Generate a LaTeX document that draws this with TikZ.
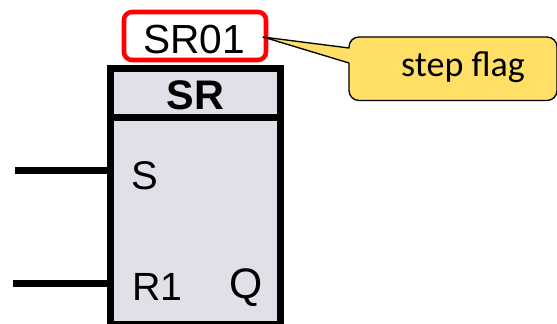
\documentclass[tikz,border=0pt]{standalone}
\usepackage{fontspec}
\setmainfont{Liberation Sans}
\newfontfamily\callfont{Carlito}
\definecolor{blockfill}{HTML}{DFE0E8}
\definecolor{callfill}{HTML}{FFDF66}
\definecolor{flagred}{HTML}{FF0000}
\tikzset{
  blockpart/.style={draw=black,line width=5.25pt,fill=blockfill,inner sep=0pt,outer sep=0pt,anchor=north west},
  wire/.style={draw=black,line width=5.25pt},
  lbl/.style={inner sep=0pt,anchor=base west,text=black},
}
\begin{document}
\begin{tikzpicture}[x=0.75pt,y=-0.75pt]
\useasboundingbox (0,0) rectangle (557,324);
\clip (0,0) rectangle (557,324);
% flag box
\node[draw=flagred,line width=3.4pt,rounded corners=6pt,fill=white,minimum width=106.5pt,minimum height=36pt,inner sep=0pt] (flag) at (195,36) {};
\node[inner sep=0pt,anchor=base,font=\fontsize{30.5pt}{31pt}\selectfont] (flagtxt) at (194,54) {SR01};
% block
\node[blockpart,minimum width=127.5pt,minimum height=37pt] (head) at (110,69) {};
\node[blockpart,minimum width=127.5pt,minimum height=154.5pt] (body) at (110,118) {};
\node[inner sep=0pt,anchor=base,font=\fontsize{31pt}{32pt}\selectfont\bfseries] (title) at (195.5,110) {SR};
% wires
\coordinate (sin) at (15,170.7);
\coordinate (rin) at (13,283.5);
\coordinate (sto) at (body.west |- sin);
\coordinate (rto) at (body.west |- rin);
\draw[wire] (sin) -- (sto);
\draw[wire] (rin) -- (rto);
% pins
\node[lbl,font=\fontsize{30pt}{31pt}\selectfont] (pinS) at (131,190) {S};
\node[lbl,font=\fontsize{29.5pt}{30pt}\selectfont] (pinR) at (132,300) {R1};
\node[lbl,font=\fontsize{32pt}{33pt}\selectfont] (pinQ) at (229,298) {Q};
% callout
\coordinate (tip) at (263,37);
\draw[draw=black,line width=1pt,fill=callfill,line join=round]
  (tip) -- (349,48) [rounded corners=7.5pt] -- (349,37) -- (557,37) -- (557,100.5) -- (349,100.5) [sharp corners] -- (349,63) -- cycle;
\node[inner sep=0pt,anchor=base,font=\callfont\fontsize{27pt}{28pt}\selectfont] (calltxt) at (463,77) {step flag};
\end{tikzpicture}
\end{document}
